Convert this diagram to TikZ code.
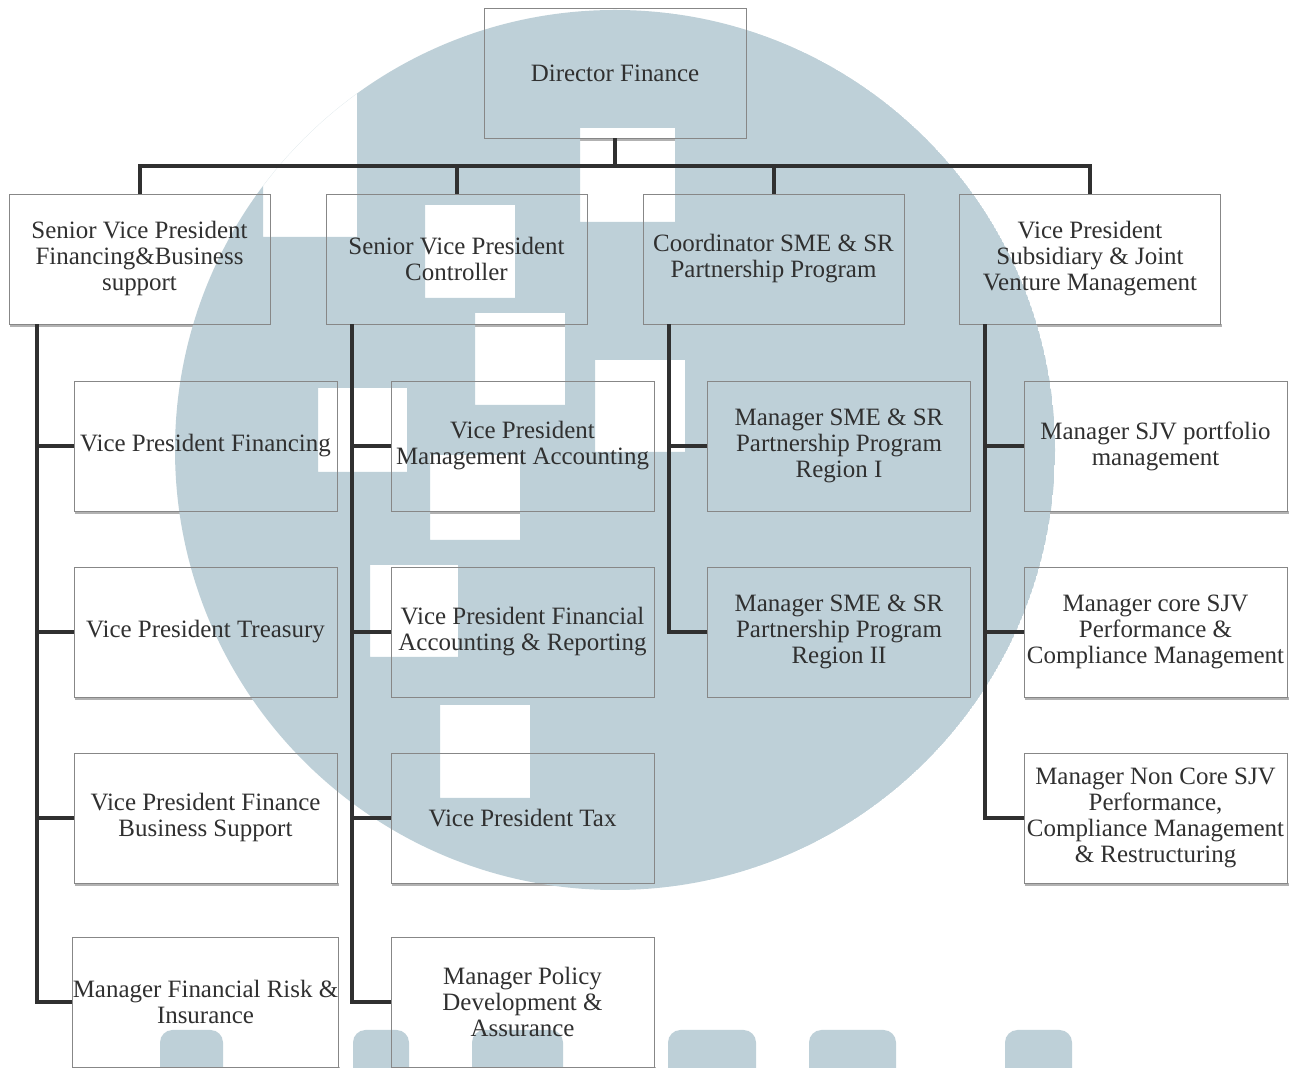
\documentclass[tikz,border=0pt]{standalone}
\usepackage{fontspec}
\setmainfont{Liberation Serif}
\definecolor{wmark}{RGB}{190,208,216}
\definecolor{boxline}{RGB}{135,135,135}
\definecolor{ink}{RGB}{48,48,48}
\pgfdeclarelayer{bg}
\pgfsetlayers{bg,main}
\tikzset{
  orgbox/.style={rectangle, draw=boxline, inner sep=0pt, minimum width=5.26cm, minimum height=2.6cm,
    align=center, text=ink, font=\fontsize{14.2}{14.8}\selectfont},
  headbox/.style={orgbox, minimum width=5.22cm},
  conn/.style={draw=ink, line width=0.08cm},
  boxshade/.style={fill=black!30},
}

\begin{document}
\begin{tikzpicture}
\clip (0,0) rectangle (26,21.36);

\node[orgbox, minimum width=5.24cm] (dir) at (12.3,19.9) {Director Finance};

\node[headbox] (svpfin) at (2.79,16.18) {Senior Vice President\\Financing\&Business\\support};
\node[headbox] (svpctrl) at (9.13,16.18) {Senior Vice President\\Controller};
\node[headbox] (coordsme) at (15.47,16.18) {Coordinator SME \& SR\\Partnership Program};
\node[headbox] (vpsjv) at (21.8,16.18) {Vice President\\Subsidiary \& Joint\\Venture Management};

\node[orgbox] (vpfin) at (4.11,12.44) {Vice President Financing};
\node[orgbox] (vptreas) at (4.11,8.72) {Vice President Treasury};
\node[orgbox] (vpfbs) at (4.11,5.0) {Vice President Finance\\Business Support};
\node[orgbox] (mfri) at (4.11,1.32) {Manager Financial Risk \&\\Insurance};

\node[orgbox] (vpma) at (10.45,12.44) {Vice President\\Management Accounting};
\node[orgbox] (vpfar) at (10.45,8.72) {Vice President Financial\\Accounting \& Reporting};
\node[orgbox] (vptax) at (10.45,5.0) {Vice President Tax};
\node[orgbox] (mpda) at (10.45,1.32) {Manager Policy\\Development \&\\Assurance};

\node[orgbox] (msmeone) at (16.78,12.44) {Manager SME \& SR\\Partnership Program\\Region I};
\node[orgbox] (msmetwo) at (16.78,8.72) {Manager SME \& SR\\Partnership Program\\Region II};

\node[orgbox] (msjvpm) at (23.11,12.44) {Manager SJV portfolio\\management};
\node[orgbox] (mcore) at (23.11,8.72) {Manager core SJV\\Performance \&\\Compliance Management};
\node[orgbox] (mnoncore) at (23.11,5.0) {Manager Non Core SJV\\Performance,\\Compliance Management\\\& Restructuring};

\coordinate (bus) at (0,18.04);
\foreach \n in {svpfin,svpctrl,coordsme,vpsjv}
  \draw[conn] (dir.south) |- (\n.north |- bus) -- (\n.north);

\foreach \c in {vpfin,vptreas,vpfbs,mfri}
  \draw[conn] ([xshift=0.56cm]svpfin.south west) |- (\c.west);
\foreach \c in {vpma,vpfar,vptax,mpda}
  \draw[conn] ([xshift=0.52cm]svpctrl.south west) |- (\c.west);
\foreach \c in {msmeone,msmetwo}
  \draw[conn] ([xshift=0.52cm]coordsme.south west) |- (\c.west);
\foreach \c in {msjvpm,mcore,mnoncore}
  \draw[conn] ([xshift=0.52cm]vpsjv.south west) |- (\c.west);

\begin{pgfonlayer}{bg}
\fill[white] (0,0) rectangle (26,21.36);
\foreach \n in {dir,svpfin,svpctrl,coordsme,vpsjv,vpfin,vptreas,vpfbs,mfri,vpma,vpfar,vptax,mpda,msmeone,msmetwo,msjvpm,mcore,mnoncore}
  \fill[boxshade] ([xshift=0.03cm]\n.south west) rectangle ([xshift=0.03cm, yshift=-0.06cm]\n.south east);
\begin{scope}
\clip (12.3,12.36) circle (8.8);
\fill[wmark, even odd rule] (12.3,12.36) circle (8.8)
  (11.6,18.8) rectangle (13.5,16.92)
  (8.5,17.26) rectangle (10.3,15.4)
  (9.5,15.1) rectangle (11.3,13.26)
  (11.9,14.16) rectangle (13.7,12.32)
  (6.36,13.6) rectangle (8.14,11.92)
  (8.6,12.26) rectangle (10.4,10.56)
  (7.4,10.06) rectangle (9.16,8.22)
  (8.8,7.26) rectangle (10.6,5.4)
  (5.26,19.56) rectangle (7.14,16.62);
\end{scope}
\foreach \xa/\xb in {3.2/4.46,7.06/8.18,9.44/11.26,13.36/15.12,16.18/17.92,20.1/21.44}
  \fill[wmark, rounded corners=0.25cm] (\xa,-0.4) rectangle (\xb,0.76);
\end{pgfonlayer}

\end{tikzpicture}
\end{document}
